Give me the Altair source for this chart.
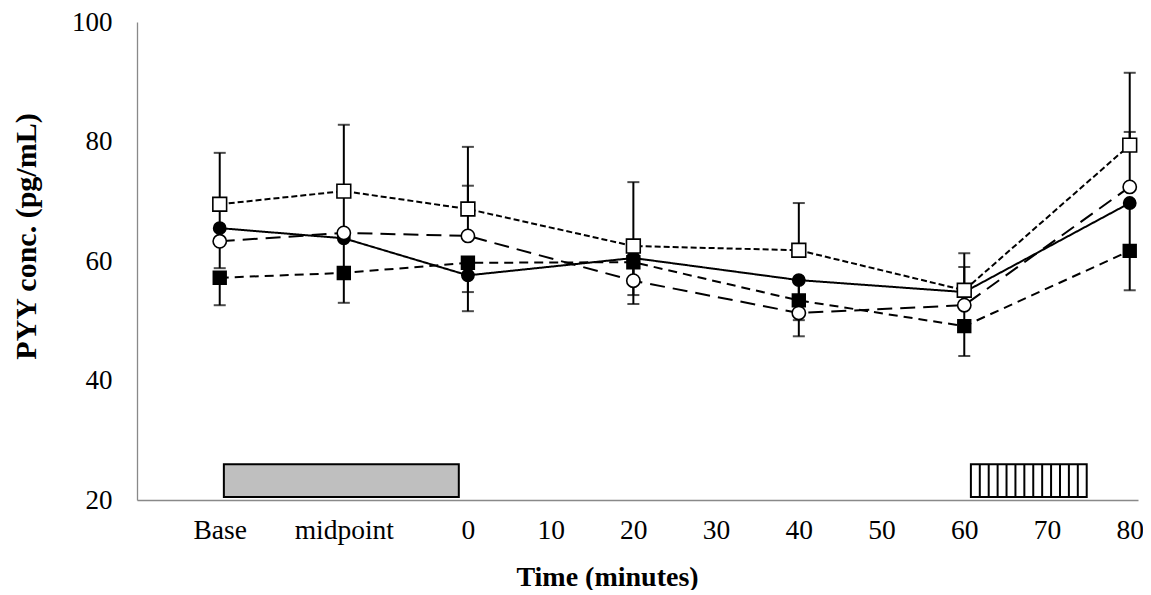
import altair as alt
import numpy as np
import pandas as pd

# ---- data ----
times = [-30, -15, 0, 20, 40, 60, 80]
tick_values = [-30, -15, 0, 10, 20, 30, 40, 50, 60, 70, 80]
tick_labels = ["Base", "midpoint", "0", "10", "20", "30", "40", "50", "60", "70", "80"]

series_names = ["filled circle", "filled square", "open circle", "open square"]
filled_circle = [65.5, 63.8, 57.6, 60.5, 56.8, 54.8, 69.7]
filled_square = [57.2, 58.0, 59.7, 59.8, 53.4, 49.1, 61.7]
open_circle = [63.3, 64.7, 64.2, 56.7, 51.3, 52.6, 72.4]
open_square = [69.5, 71.7, 68.7, 62.5, 61.8, 55.1, 79.4]

# error bar ends (one-sided)
filled_circle_err_end = [58.8, 58.2, 54.8, 54.3, 50.1, 49.5, 62.5]
filled_square_err_end = [52.6, 53.0, 51.6, 52.8, 47.4, 44.1, 55.1]
open_circle_err_end = [69.0, 71.0, 72.6, 59.5, 56.5, 59.0, 81.6]
open_square_err_end = [78.1, 82.8, 79.1, 73.2, 69.7, 61.3, 91.5]

# protocol bars (x start, x end, y bottom, y top)
bar_x = [-29.5, 60.8]
bar_x2 = [-1.1, 74.8]
bar_y = [20.5, 20.5]
bar_y2 = [26.0, 26.0]
bar_fill = ["#bfbfbf", "#ffffff"]
n_hatch = 12

# ---- tables ----
values = [filled_circle, filled_square, open_circle, open_square]
ends = [filled_circle_err_end, filled_square_err_end, open_circle_err_end, open_square_err_end]
rows = []
for name, vals, es in zip(series_names, values, ends):
    for t, v, e in zip(times, vals, es):
        rows.append({"t": t, "v": v, "e": e, "series": name})
df = pd.DataFrame(rows)

bars = pd.DataFrame({"x": bar_x, "x2": bar_x2, "y": bar_y, "y2": bar_y2, "fill": bar_fill})
hatch_x = np.linspace(bar_x[1], bar_x2[1], n_hatch + 2)[1:-1]
hatch = pd.DataFrame({"x": hatch_x, "y": bar_y[1], "y2": bar_y2[1]})

FONT = "Liberation Serif"
label_expr = " : ".join(
    [f"datum.value == {v} ? '{l}'" for v, l in zip(tick_values, tick_labels)]
) + " : datum.label"

xscale = alt.Scale(domain=[-40, 81], nice=False, zero=False)
yscale = alt.Scale(domain=[20, 100], nice=False, zero=False)

x_axis = alt.Axis(
    values=tick_values, labelExpr=label_expr, ticks=False, grid=False,
    domainColor="#898989", domainWidth=1.3, labelFont=FONT, labelFontSize=27.5,
    labelColor="black", labelPadding=16, labelOverlap=False, labelFlush=False,
    title="Time (minutes)", titleFont=FONT, titleFontSize=28, titleFontWeight="bold",
    titleColor="black", titleX=470, titleY=77, titleBaseline="middle", titleAlign="center",
)
y_axis = alt.Axis(
    values=[20, 40, 60, 80, 100], ticks=False, grid=False,
    domainColor="#898989", domainWidth=1.3, labelFont=FONT, labelFontSize=27,
    labelColor="black", labelPadding=25, labelBaseline="middle",
    title="PYY conc. (pg/mL)", titleFont=FONT, titleFontSize=30, titleFontWeight="bold",
    titleColor="black", titleX=-111, titleY=214, titleAngle=-90,
    titleBaseline="middle", titleAlign="center",
)

base = alt.Chart(df)

rects = alt.Chart(bars).mark_rect(stroke="black", strokeWidth=2).encode(
    x=alt.X("x:Q", scale=xscale, axis=x_axis),
    x2="x2:Q",
    y=alt.Y("y:Q", scale=yscale, axis=y_axis),
    y2="y2:Q",
    fill=alt.Fill("fill:N", scale=None),
)

stripes = alt.Chart(hatch).mark_rule(color="black", strokeWidth=2).encode(
    x=alt.X("x:Q", scale=xscale), y=alt.Y("y:Q", scale=yscale), y2="y2:Q"
)

err_rules = base.mark_rule(color="black", strokeWidth=2).encode(
    x=alt.X("t:Q", scale=xscale), y=alt.Y("v:Q", scale=yscale), y2="e:Q"
)
err_caps = base.mark_tick(color="black", thickness=2, size=12, orient="horizontal").encode(
    x=alt.X("t:Q", scale=xscale), y=alt.Y("e:Q", scale=yscale)
)

lines = base.mark_line(color="black", strokeWidth=2).encode(
    x=alt.X("t:Q", scale=xscale),
    y=alt.Y("v:Q", scale=yscale),
    detail="series:N",
    strokeDash=alt.StrokeDash(
        "series:N",
        scale=alt.Scale(domain=series_names, range=[[1, 0], [9, 6], [15, 8], [6, 3]]),
        legend=None,
    ),
)

points = base.mark_point(filled=False, stroke="black", strokeWidth=1.6, opacity=1).encode(
    x=alt.X("t:Q", scale=xscale),
    y=alt.Y("v:Q", scale=yscale),
    shape=alt.Shape(
        "series:N",
        scale=alt.Scale(domain=series_names, range=["circle", "square", "circle", "square"]),
        legend=None,
    ),
    fill=alt.Fill(
        "series:N",
        scale=alt.Scale(domain=series_names, range=["black", "black", "white", "white"]),
        legend=None,
    ),
    size=alt.Size(
        "series:N",
        scale=alt.Scale(domain=series_names, range=[150, 190, 150, 190]),
        legend=None,
    ),
    order=alt.Order("series:N"),
)

chart = alt.layer(rects, stripes, err_rules, err_caps, lines, points).properties(
    width=1001,
    height=478,
    autosize=alt.AutoSizeParams(type="none"),
    padding={"left": 129, "top": 14, "right": 5, "bottom": 90},
    background="white",
).configure_view(stroke=None)

chart.save("out.html", embed_options={"renderer": "svg", "actions": False})
